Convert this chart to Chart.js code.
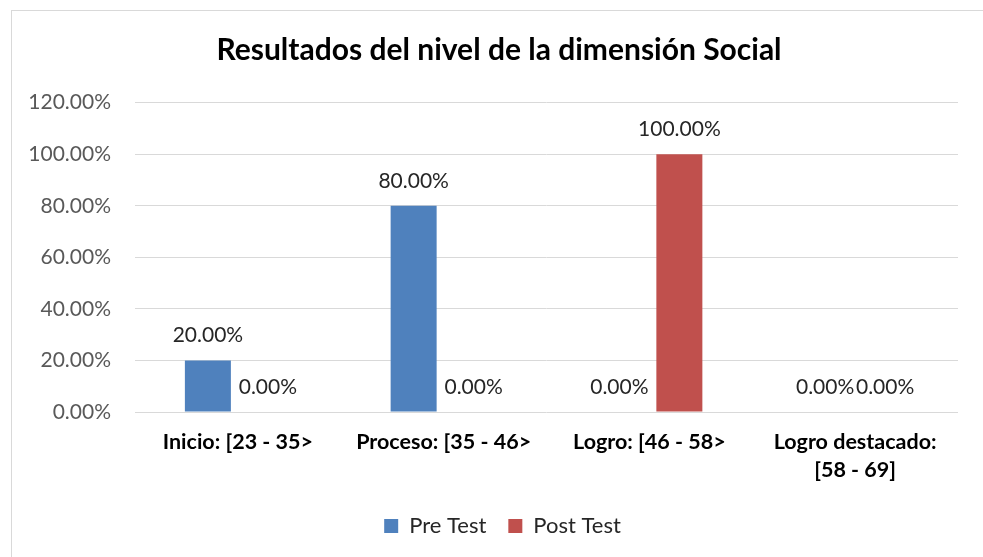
<!DOCTYPE html>
<html>
<head>
<meta charset="utf-8">
<script src="https://cdn.jsdelivr.net/npm/chart.js@4.4.1/dist/chart.umd.min.js"></script>
<style>
  html, body { margin: 0; padding: 0; background: #ffffff; overflow: hidden; }
  #wrap { position: relative; width: 983px; height: 557px; }
  #frame { position: absolute; left: 11px; top: 10px; width: 1000px; height: 600px; border: 1px solid #d9d9d9; box-sizing: border-box; }
  #c { position: absolute; left: 0; top: 0; }
</style>
</head>
<body>
<div id="wrap">
  <div id="frame"></div>
  <canvas id="c" width="983" height="557"></canvas>
</div>
<script>
const titleText = 'Resultados del nivel de la dimensión Social';
const categories = [
  'Inicio: [23 - 35>',
  'Proceso: [35 - 46>',
  'Logro: [46 - 58>',
  ['Logro destacado:', '[58 - 69]']
];
const seriesNames = ['Pre Test', 'Post Test'];
const preTest = [20, 80, 0, 0];
const postTest = [0, 0, 100, 0];
const yTicks = [0, 20, 40, 60, 80, 100, 120];

const FONT = 'Lato, "Open Sans", sans-serif';

const dataLabels = {
  id: 'dataLabels',
  afterLayout(chart) {
    // centre title and legend on the outer chart frame rather than the full canvas
    if (chart.titleBlock) chart.titleBlock.left = 40;
    if (chart.legend) chart.legend.left = 47;
  },
  afterDatasetsDraw(chart) {
    const ctx = chart.ctx;
    ctx.save();
    ctx.font = '21px ' + FONT;
    ctx.fillStyle = '#262626';
    ctx.textAlign = 'center';
    ctx.textBaseline = 'middle';
    chart.data.datasets.forEach((ds, di) => {
      const meta = chart.getDatasetMeta(di);
      meta.data.forEach((el, i) => {
        const v = ds.data[i];
        ctx.fillText(v.toFixed(2) + '%', el.x, el.y - 25);
      });
    });
    ctx.restore();
  }
};

new Chart(document.getElementById('c'), {
  type: 'bar',
  data: {
    labels: categories,
    datasets: [
      { label: seriesNames[0], data: preTest, backgroundColor: '#4f81bd', categoryPercentage: 0.583, barPercentage: 0.767 },
      { label: seriesNames[1], data: postTest, backgroundColor: '#c0504d', categoryPercentage: 0.583, barPercentage: 0.767 }
    ]
  },
  options: {
    responsive: false,
    animation: false,
    events: [],
    layout: { padding: { left: 0, right: 25, top: 0, bottom: 10 } },
    plugins: {
      title: {
        display: true,
        text: titleText,
        color: '#000000',
        font: { family: FONT, size: 30, weight: 'bold', lineHeight: 1.2 },
        padding: { top: 32, bottom: 34.7 }
      },
      legend: {
        position: 'bottom',
        labels: {
          color: '#262626',
          font: { family: FONT, size: 22 },
          boxWidth: 14,
          boxHeight: 14,
          padding: 22
        }
      },
      tooltip: { enabled: false }
    },
    scales: {
      x: {
        grid: { display: false },
        border: { display: false },
        ticks: {
          color: '#000000',
          font: { family: FONT, size: 21.5, weight: 'bold', lineHeight: 1.3 },
          padding: 8,
          maxRotation: 0,
          autoSkip: false
        },
        afterFit(scale) { scale.height = 81; }
      },
      y: {
        min: 0,
        max: 120,
        afterBuildTicks(scale) { scale.ticks = yTicks.map(v => ({ value: v })); },
        grid: { color: '#d9d9d9', lineWidth: 1, drawTicks: false },
        border: { display: false },
        ticks: {
          color: '#595959',
          font: { family: FONT, size: 21 },
          padding: 24,
          callback: v => v.toFixed(2) + '%'
        },
        afterFit(scale) { scale.width = 135; }
      }
    }
  },
  plugins: [dataLabels]
});
</script>
</body>
</html>
